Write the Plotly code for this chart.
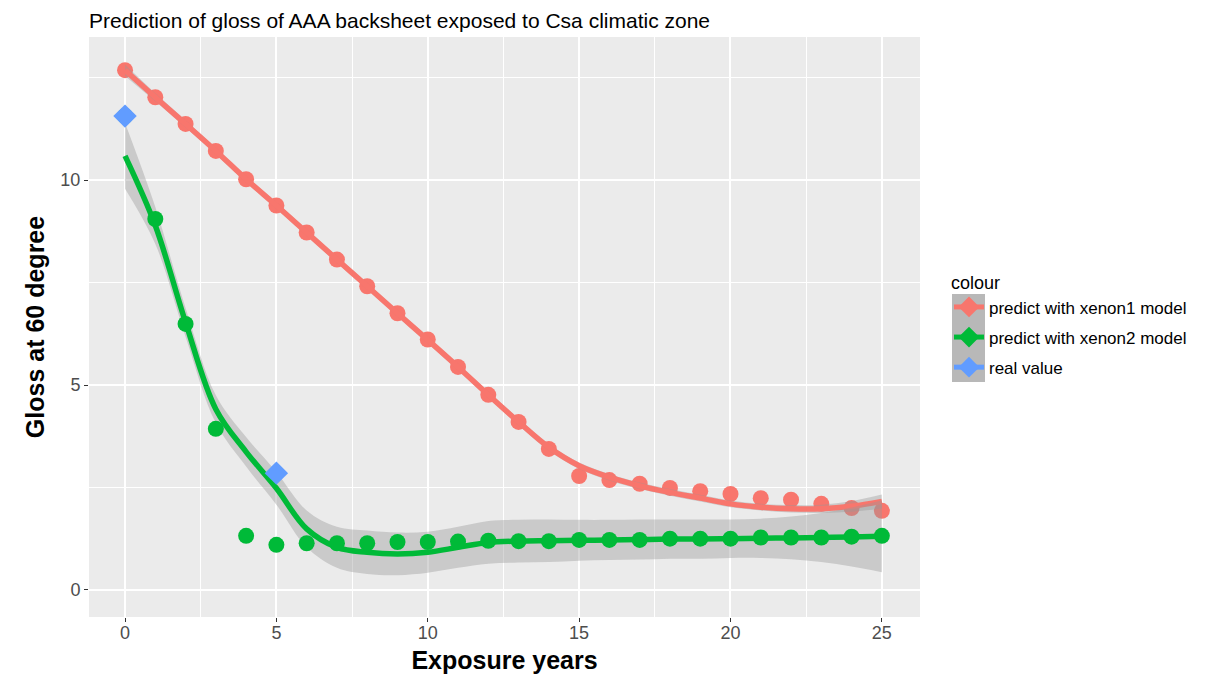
import plotly.graph_objects as go

years = list(range(0, 26))
xenon1 = [12.68, 12.02, 11.37, 10.71, 10.02, 9.38, 8.72, 8.06, 7.41, 6.75, 6.11, 5.44, 4.76,
          4.10, 3.44, 2.78, 2.68, 2.59, 2.49, 2.41, 2.34, 2.24, 2.20, 2.10, 2.00, 1.93]
xenon2 = [11.56, 9.05, 6.49, 3.93, 1.32, 1.10, 1.14, 1.14, 1.14, 1.17, 1.17, 1.18, 1.20,
          1.19, 1.19, 1.22, 1.22, 1.22, 1.25, 1.25, 1.25, 1.28, 1.28, 1.28, 1.30, 1.32]
real_years = [0, 5]
real_vals = [11.56, 2.85]

# smoothed curves and half-widths of their confidence bands
smooth1 = [12.68, 12.02, 11.37, 10.71, 10.02, 9.38, 8.72, 8.06, 7.41, 6.75, 6.10, 5.44, 4.76,
           4.10, 3.48, 3.03, 2.75, 2.54, 2.38, 2.24, 2.10, 2.02, 1.98, 1.98, 2.04, 2.16]
band1 = [0.14, 0.1, 0.09, 0.08, 0.08, 0.08, 0.08, 0.08, 0.08, 0.08, 0.08, 0.08, 0.08,
         0.08, 0.08, 0.08, 0.08, 0.08, 0.08, 0.08, 0.08, 0.08, 0.09, 0.1, 0.13, 0.17]
smooth2 = [10.59, 8.89, 6.53, 4.41, 3.37, 2.48, 1.49, 1.04, 0.92, 0.88, 0.92, 1.04, 1.16,
           1.19, 1.20, 1.21, 1.22, 1.23, 1.24, 1.24, 1.25, 1.26, 1.27, 1.28, 1.29, 1.31]
band2 = [0.80, 0.45, 0.35, 0.34, 0.36, 0.40, 0.45, 0.50, 0.53, 0.52, 0.50, 0.50, 0.52,
         0.52, 0.52, 0.50, 0.49, 0.49, 0.48, 0.48, 0.47, 0.48, 0.52, 0.6, 0.72, 0.88]

RED = "#F8766D"
GREEN = "#00BA38"
BLUE = "#619CFF"
RIB = "rgba(153,153,153,0.4)"
FONT = "Liberation Sans, Arial, sans-serif"

fig = go.Figure()


def add_smooth(sm, bd, col):
    lo = [s - b for s, b in zip(sm, bd)]
    hi = [s + b for s, b in zip(sm, bd)]
    fig.add_trace(go.Scatter(x=years, y=lo, mode="lines", line=dict(width=0, shape="spline"),
                             showlegend=False, hoverinfo="skip"))
    fig.add_trace(go.Scatter(x=years, y=hi, mode="lines", line=dict(width=0, shape="spline"),
                             fill="tonexty", fillcolor=RIB, showlegend=False, hoverinfo="skip"))
    fig.add_trace(go.Scatter(x=years, y=sm, mode="lines",
                             line=dict(color=col, width=5.5, shape="spline"),
                             showlegend=False, hoverinfo="skip"))


fig.add_trace(go.Scatter(x=years, y=xenon1, mode="markers",
                         marker=dict(color=RED, size=16, line=dict(width=0)),
                         showlegend=False, hoverinfo="skip"))
add_smooth(smooth1, band1, RED)
add_smooth(smooth2, band2, GREEN)
fig.add_trace(go.Scatter(x=years, y=xenon2, mode="markers",
                         marker=dict(color=GREEN, size=16, line=dict(width=0)),
                         showlegend=False, hoverinfo="skip"))
fig.add_trace(go.Scatter(x=real_years, y=real_vals, mode="markers",
                         marker=dict(color=BLUE, symbol="diamond", size=18, line=dict(width=0)),
                         showlegend=False, hoverinfo="skip"))

# legend entries
names = ["predict with xenon1 model", "predict with xenon2 model", "real value"]
for i, (nm, col) in enumerate(zip(names, [RED, GREEN, BLUE])):
    fig.add_trace(go.Scatter(x=[None], y=[None], mode="lines+markers", name=nm,
                             legendgroup=str(i),
                             line=dict(color=col, width=5),
                             marker=dict(color=col, symbol="diamond", size=17)))

axis_common = dict(
    showgrid=True, gridcolor="white", gridwidth=1.6, zeroline=False,
    ticks="outside", ticklen=4, tickcolor="#333333", tickwidth=1,
    tickfont=dict(family=FONT, size=18, color="#4D4D4D"),
    showline=False, automargin=False,
    minor=dict(showgrid=True, gridcolor="white", gridwidth=0.8, ticks=""),
)

# the page body has an 8px margin, so the figure is laid out 8px in from the page corner
W, H = 1204, 670
L, R, T, B = 81, W - 912, 29, H - 609
pw, ph = W - L - R, H - T - B

fig.update_layout(
    width=W, height=H,
    margin=dict(l=L, r=R, t=T, b=B),
    paper_bgcolor="white", plot_bgcolor="#EBEBEB",
    font=dict(family=FONT, color="black"),
    title=dict(text="Prediction of gloss of AAA backsheet exposed to Csa climatic zone",
               x=0, xref="paper", xanchor="left", y=1 - 12.5 / H, yref="container", yanchor="middle",
               font=dict(size=21, color="black", family=FONT), automargin=False),
    xaxis=dict(range=[-1.19, 26.26], tickvals=[0, 5, 10, 15, 20, 25],
               title=dict(text="<b>Exposure years</b>", font=dict(size=25, color="black", family=FONT), standoff=9),
               **axis_common),
    yaxis=dict(range=[-0.66, 13.49], tickvals=[0, 5, 10],
               title=dict(text="<b>Gloss at 60 degree</b>", font=dict(size=25, color="black", family=FONT), standoff=8),
               **axis_common),
    legend=dict(x=(941 - L) / pw, xanchor="left", y=(T + ph - 258) / ph, yanchor="top",
                title=dict(text="colour", font=dict(size=18, family=FONT)),
                font=dict(size=17, color="black", family=FONT), tracegroupgap=5,
                bgcolor="rgba(0,0,0,0)", itemsizing="trace"),
    showlegend=True,
    shapes=[dict(type="rect", xref="paper", yref="paper",
                 x0=(944 - L) / pw, x1=(977 - L) / pw,
                 y0=(T + ph - 374) / ph, y1=(T + ph - 286) / ph,
                 fillcolor="#B8B8B8", line=dict(width=0), layer="below")],
)
fig.update_xaxes(minor=dict(dtick=2.5, tick0=0), ticklabelstandoff=-5)
fig.update_yaxes(minor=dict(dtick=2.5, tick0=0), ticklabelstandoff=0)

fig.write_html("out.html")
